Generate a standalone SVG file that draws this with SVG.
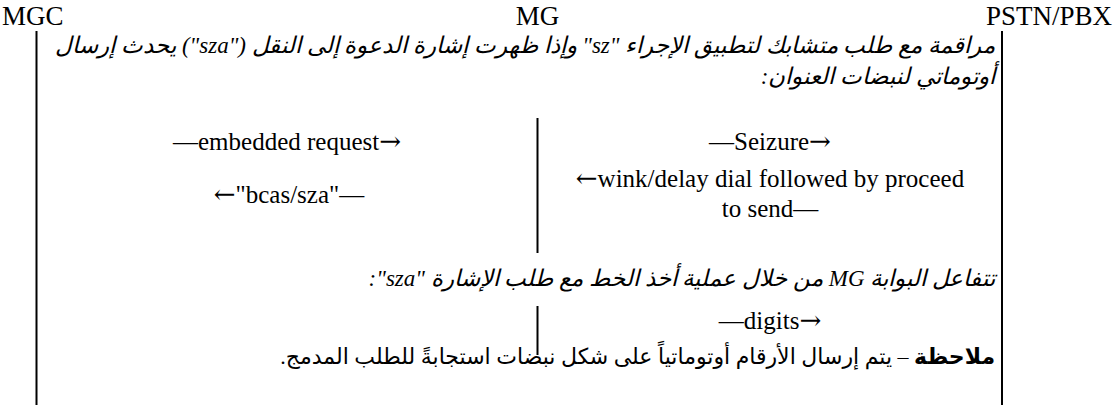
<svg xmlns="http://www.w3.org/2000/svg" width="1113" height="405" viewBox="0 0 1113 405">
<style>
.hd{font-family:"Liberation Serif","Times New Roman",serif;font-size:27px;fill:#000}
.en{font-family:"Liberation Serif","Times New Roman",serif;font-size:25px;fill:#000}
.arw{font-family:"DejaVu Serif","DejaVu Sans",serif;font-size:26px}
.ar{font-family:"Liberation Serif","DejaVu Sans",serif;font-size:23px;fill:#000}
.nt{font-size:22px}
.it{font-style:italic}
.b{font-weight:bold}
.ln{stroke:#000;stroke-width:2;fill:none}
</style>
<rect width="1113" height="405" fill="#fff"/>
<g id="MGC"><text class="hd" x="2" y="24.5">MGC</text><line class="ln" x1="36.5" y1="31" x2="36.5" y2="405"/></g>
<g id="MG"><text class="hd" x="537.5" y="24.5" text-anchor="middle">MG</text></g>
<g id="PSTN"><text class="hd" x="1112" y="24.5" text-anchor="end">PSTN/PBX</text><line class="ln" x1="1002" y1="31" x2="1002" y2="405"/></g>
<g id="connectors">
<line class="ln" x1="537.5" y1="118" x2="537.5" y2="253"/>
<line class="ln" x1="537.5" y1="306" x2="537.5" y2="355"/>
</g>
<g id="notes">
<text class="ar it" x="995" y="53" direction="rtl" text-anchor="start">مراقمة مع طلب متشابك لتطبيق الإجراء "sz" وإذا ظهرت إشارة الدعوة إلى النقل ("sza") يحدث إرسال</text>
<text class="ar it" x="995" y="84" direction="rtl" text-anchor="start">أوتوماتي لنبضات العنوان:</text>
<text class="ar it" x="995" y="286" direction="rtl" text-anchor="start">تتفاعل البوابة MG من خلال عملية أخذ الخط مع طلب الإشارة "sza":</text>
<text class="ar nt" x="995" y="364" direction="rtl" text-anchor="start"><tspan class="b">ملاحظة</tspan> – يتم إرسال الأرقام أوتوماتياً على شكل نبضات استجابةً للطلب المدمج.</text>
</g>
<g id="messages">
<text class="en" x="287" y="150" text-anchor="middle">—embedded request<tspan class="arw">→</tspan></text>
<text class="en" x="289" y="203" text-anchor="middle"><tspan class="arw">←</tspan>"bcas/sza"—</text>
<text class="en" x="770" y="150" text-anchor="middle">—Seizure<tspan class="arw">→</tspan></text>
<text class="en" x="770" y="187" text-anchor="middle"><tspan class="arw">←</tspan>wink/delay dial followed by proceed</text>
<text class="en" x="770" y="217" text-anchor="middle">to send—</text>
<text class="en" x="770" y="329" text-anchor="middle">—digits<tspan class="arw">→</tspan></text>
</g>
</svg>
